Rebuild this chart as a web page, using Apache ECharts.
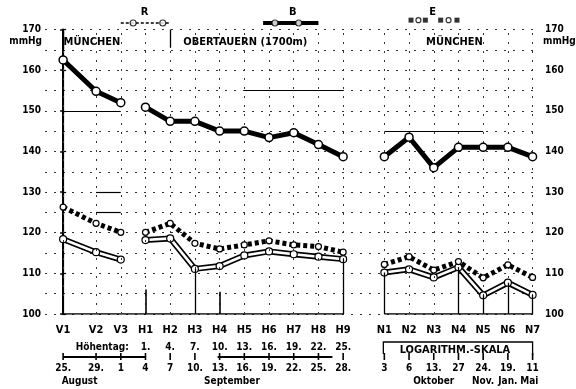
<!DOCTYPE html>
<html>
<head>
<meta charset="utf-8">
<script src="https://cdn.jsdelivr.net/npm/echarts@6/dist/echarts.min.js"></script>
<style>
  html, body { margin: 0; padding: 0; background: #fff; }
  #chart { width: 576px; height: 389px; }
</style>
</head>
<body>
<div id="chart"></div>
<script>
// Measurement points: V = before, H = at altitude, N = after return
const codes = ['V1','V2','V3','H1','H2','H3','H4','H5','H6','H7','H8','H9','N1','N2','N3','N4','N5','N6','N7'];
// plot position in days from 25 August (the N part sits on a logarithmic time scale)
const xPos = [0, 4, 7, 10, 13, 16, 19, 22, 25, 28, 31, 34, 39, 42, 45, 48, 51, 54, 57];
const altitudeDay = ['', '', '', '1.', '4.', '7.', '10.', '13.', '16.', '19.', '22.', '25.', '', '', '', '', '', '', ''];
const dateLabels = ['25.', '29.', '1', '4', '7', '10.', '13.', '16.', '19.', '22.', '25.', '28.', '3', '6', '13.', '27', '24.', '19.', '11'];
const months = ['August', 'September', 'Oktober', 'Nov.', 'Jan.', 'Mai'];
const monthPos = [2, 20.5, 45, 51, 54, 56.6];

// blood pressure, mmHg
const systolic = [162.5, 154.8, 152.0, 150.9, 147.4, 147.4, 145.0, 145.0, 143.4, 144.6, 141.7, 138.7,
                  138.7, 143.5, 136.0, 141.0, 141.0, 141.0, 138.7];
const meanUpper = [126.3, 122.3, 120.1, 120.1, 122.3, 117.4, 116.0, 117.0, 118.0, 117.0, 116.6, 115.2,
                   112.2, 114.1, 110.8, 112.9, 108.9, 112.1, 109.0];
const meanLower = [118.4, 115.2, 113.4, 118.2, 118.6, 111.1, 111.8, 114.4, 115.4, 114.7, 114.1, 113.5,
                   110.2, 111.0, 109.0, 111.5, 104.6, 107.7, 104.7];

const yMin = 100, yMax = 170;
const sections = [[0, 2], [3, 11], [12, 18]];
const dropCodes = ['H3', 'H9', 'N1', 'N4', 'N5', 'N6', 'N7'];
const stubs = [{ code: 'V1', top: 104 }, { code: 'H1', top: 106 }, { code: 'H4', top: 105.5 }];
const solidRules = [
  { value: 150, from: 'V1', to: 'V3' },
  { value: 130, from: 'V2', to: 'V3' },
  { value: 125, from: 'V2', to: 'V3' },
  { value: 155, from: 'H5', to: 'H9' },
  { value: 145, from: 'N1', to: 'N5' }
];
const periods = [
  { label: 'R', from: 'V3', to: 'H2' },
  { label: 'B', from: 'H6', to: 'H8' },
  { label: 'E', from: 'N2', to: 'N4' }
];
const rulerSpans = [['V1', 'H1'], ['H4', 'H8']];

const FONT = "'Liberation Sans Narrow','DejaVu Sans Condensed','DejaVu Sans',sans-serif";
const X_MIN = -2.2, X_MAX = 57.9;
const idx = c => codes.indexOf(c);
const xOf = c => xPos[idx(c)];

function sectioned(vals) {
  const out = [];
  sections.forEach((s, k) => {
    if (k) out.push([(xPos[s[0] - 1] + xPos[s[0]]) / 2, '-']);
    for (let i = s[0]; i <= s[1]; i++) out.push([xPos[i], vals[i]]);
  });
  return out;
}

function lookupFormatter(values, texts) {
  return v => {
    const i = values.findIndex(p => Math.abs(p - v) < 1e-6);
    return i < 0 ? '' : texts[i];
  };
}

const dotted = { type: [2, 7], color: '#333', width: 1 };
const solid = w => ({ type: 'solid', color: '#000', width: w });
const labelBase = { color: '#000', fontFamily: FONT, fontWeight: 'bold' };

const baseX = {
  type: 'value', min: X_MIN, max: X_MAX, gridIndex: 0, position: 'bottom',
  splitLine: { show: false }, axisLine: { show: false }, axisTick: { show: false }
};

const hohenVals = [4.75].concat(xPos.filter((_, i) => altitudeDay[i]));
const hohenTexts = ['Höhentag:'].concat(altitudeDay.filter(t => t));

const option = {
  animation: false,
  backgroundColor: '#fff',
  grid: { left: 45, right: 36, top: 29.5, bottom: 75, outerBoundsMode: 'none', containLabel: false },
  xAxis: [
    Object.assign({}, baseX, {
      axisLabel: Object.assign({}, labelBase, { customValues: xPos, formatter: lookupFormatter(xPos, codes), fontSize: 11, margin: 11 })
    }),
    Object.assign({}, baseX, {
      offset: 17,
      axisLabel: Object.assign({}, labelBase, { customValues: hohenVals, formatter: lookupFormatter(hohenVals, hohenTexts), fontSize: 10, margin: 11 })
    }),
    Object.assign({}, baseX, {
      offset: 43,
      axisLabel: Object.assign({}, labelBase, { customValues: xPos, formatter: lookupFormatter(xPos, dateLabels), fontSize: 10, margin: 6 })
    }),
    Object.assign({}, baseX, {
      offset: 58,
      axisLabel: Object.assign({}, labelBase, { customValues: monthPos, formatter: lookupFormatter(monthPos, months), fontSize: 10, margin: 4 })
    })
  ],
  yAxis: [
    {
      type: 'value', min: yMin, max: yMax, interval: 10, position: 'left',
      axisLine: { show: true, lineStyle: { color: '#000', width: 2 } },
      axisTick: { show: true, length: 3, lineStyle: { color: '#000', width: 1.5 } },
      axisLabel: Object.assign({}, labelBase, { fontSize: 10, margin: 4 }),
      splitLine: { show: true, lineStyle: dotted },
      minorTick: { show: false, splitNumber: 2 },
      minorSplitLine: { show: true, lineStyle: dotted }
    },
    {
      type: 'value', min: yMin, max: yMax, interval: 10, position: 'right',
      axisLine: { show: true, lineStyle: { color: '#000', width: 1.2 } },
      axisTick: { show: true, length: 3, lineStyle: { color: '#000', width: 1.2 } },
      axisLabel: Object.assign({}, labelBase, { fontSize: 10, margin: 5 }),
      splitLine: { show: false }
    }
  ],
  series: []
};

// grid rules: vertical dotted lines, partially solid rules, drop lines
option.series.push({
  type: 'line', data: [], silent: true, z: 1,
  markLine: {
    silent: true, symbol: ['none', 'none'], label: { show: false }, animation: false,
    lineStyle: dotted,
    data: xPos.map(x => ({ xAxis: x }))
      .concat(solidRules.map(r => [
        { coord: [xOf(r.from), r.value], lineStyle: solid(1.2) },
        { coord: [xOf(r.to), r.value] }
      ]))
      .concat(dropCodes.map(c => [
        { coord: [xOf(c), meanLower[idx(c)]], lineStyle: solid(1.3) },
        { coord: [xOf(c), yMin] }
      ]))
      .concat(stubs.map(s => [
        { coord: [xOf(s.code), s.top], lineStyle: solid(1.6) },
        { coord: [xOf(s.code), yMin] }
      ]))
      .concat([
        [{ coord: [xOf('V1'), yMax], lineStyle: solid(1.3) }, { coord: [xOf('V1'), 165.2] }],
        [{ coord: [xOf('H2'), yMax], lineStyle: solid(1.3) }, { coord: [xOf('H2'), 165.5] }]
      ])
  }
});

// baseline at 100 mmHg for each panel
option.series.push({
  type: 'line', silent: true, symbol: 'none', z: 2,
  lineStyle: { color: '#000', width: 1.6 },
  data: [[xOf('V1'), yMin], [xOf('H9'), yMin], [(xOf('H9') + xOf('N1')) / 2, '-'], [xOf('N1'), yMin], [xOf('N7'), yMin]]
});

// lower pressure curve drawn as a hollow band
option.series.push({
  type: 'line', silent: true, symbol: 'none', z: 3,
  lineStyle: { color: '#000', width: 6 },
  data: sectioned(meanLower)
});
option.series.push({
  type: 'line', silent: true, z: 4,
  symbol: 'circle', symbolSize: 7,
  itemStyle: { color: '#fff', borderColor: '#000', borderWidth: 1.2 },
  lineStyle: { color: '#fff', width: 2.6 },
  data: sectioned(meanLower)
});

// upper mean curve, heavy dotted
option.series.push({
  type: 'line', silent: true, z: 5,
  symbol: 'circle', symbolSize: 6,
  itemStyle: { color: '#fff', borderColor: '#000', borderWidth: 1.2 },
  lineStyle: { color: '#000', width: 5, type: [4, 3], cap: 'butt' },
  data: sectioned(meanUpper)
});

// systolic curve
option.series.push({
  type: 'line', silent: true, z: 6,
  symbol: 'circle', symbolSize: 8,
  itemStyle: { color: '#fff', borderColor: '#000', borderWidth: 1.5 },
  lineStyle: { color: '#000', width: 5 },
  data: sectioned(systolic)
});

// period bars above the plot
const barY = 171.6;
const pR = periods[0], pB = periods[1], pE = periods[2];
const along = (p, f) => xOf(p.from) + (xOf(p.to) - xOf(p.from)) * f;
option.series.push({
  type: 'line', silent: true, clip: false, symbol: 'none', z: 6,
  lineStyle: { color: '#000', width: 1.5, type: [3, 2] },
  data: [[xOf(pR.from), barY], [xOf(pR.to), barY]]
});
option.series.push({
  type: 'line', silent: true, clip: false, symbol: 'none', z: 6,
  lineStyle: { color: '#000', width: 4 },
  data: [[along(pB, -0.12), barY], [xOf(pB.to), barY]]
});
option.series.push({
  type: 'scatter', silent: true, clip: false, z: 7,
  symbol: 'circle', symbolSize: 6,
  itemStyle: { color: '#fff', borderColor: '#000', borderWidth: 1.2 },
  data: [[along(pR, 0.25), barY], [along(pR, 0.85), barY], [along(pB, 0.12), barY], [along(pB, 0.6), barY]]
});
const eFrac = [0.04, 0.19, 0.33, 0.64, 0.8, 0.97];
const eShape = ['rect', 'circle', 'rect', 'rect', 'circle', 'rect'];
option.series.push({
  type: 'scatter', silent: true, clip: false, z: 7,
  symbolSize: 5,
  data: eFrac.map((f, i) => ({
    value: [along(pE, f), 172.3],
    symbol: eShape[i],
    itemStyle: eShape[i] === 'rect' ? { color: '#000' } : { color: '#fff', borderColor: '#000', borderWidth: 1.2 }
  }))
});

const chart = echarts.init(document.getElementById('chart'), null, { renderer: 'canvas' });
chart.setOption(option);

// text, bracket and date ruler placed from data coordinates
const px = (x, y) => chart.convertToPixel({ xAxisIndex: 0, yAxisIndex: 0 }, [x, y]);
const txt = (x, y, s, size, align) => ({
  type: 'text', x: x, y: y, silent: true, z: 10,
  style: { text: s, fill: '#000', font: 'bold ' + size + 'px ' + FONT, textAlign: align || 'center', textVerticalAlign: 'middle' }
});
const rect = (x, y, w, h) => ({
  type: 'rect', silent: true, z: 10,
  shape: { x: x, y: y, width: w, height: h },
  style: { fill: '#000' }
});

const baseY = px(0, yMin)[1];
const leftX = px(X_MIN, yMin)[0];
const rightX = px(X_MAX, yMin)[0];
const xPx = x => px(x, yMin)[0];
const mid = (a, b) => (xOf(a) + xOf(b)) / 2;
const titleY = px(0, 167)[1];
const graphics = [
  txt(xPx(mid('V1', 'V3')), titleY, 'MÜNCHEN', 11),
  txt(xPx(mid('H1', 'H9')) + 1, titleY, 'OBERTAUERN (1700m)', 11),
  txt(xPx(mid('N1', 'N7')) - 4, titleY, 'MÜNCHEN', 11),
  txt(leftX - 3, titleY, 'mmHg', 10, 'right'),
  txt(rightX + 3, titleY, 'mmHg', 10, 'left')
];
periods.forEach(p => {
  graphics.push(txt(xPx(mid(p.from, p.to)) - 1, px(0, 174.3)[1], p.label, 11));
});

// date ruler with a tick at every measurement date
const rulerY = Math.round(baseY + 42);
rulerSpans.forEach((s, k) => {
  const x1 = xPx(xOf(s[0])) - (k ? 2 : 0);
  const x2 = xPx(xOf(s[1])) + (k ? 14 : 0);
  graphics.push(rect(x1, rulerY, x2 - x1, 2));
});
xPos.forEach(x => graphics.push(rect(xPx(x) - 0.8, rulerY - 3, 1.6, 7)));

// bracket for the logarithmic part
const n1 = xPx(xOf('N1')) - 1, n7 = xPx(xOf('N7'));
const brTop = baseY + 28;
graphics.push({
  type: 'polyline', silent: true, z: 10,
  shape: { points: [[n1, brTop + 12], [n1, brTop], [n7, brTop], [n7, brTop + 14]] },
  style: { stroke: '#000', lineWidth: 1.3, fill: null }
});
graphics.push(txt((n1 + n7) / 2 - 3, brTop + 8, 'LOGARITHM.-SKALA', 11));

chart.setOption({ graphic: graphics });
</script>
</body>
</html>
